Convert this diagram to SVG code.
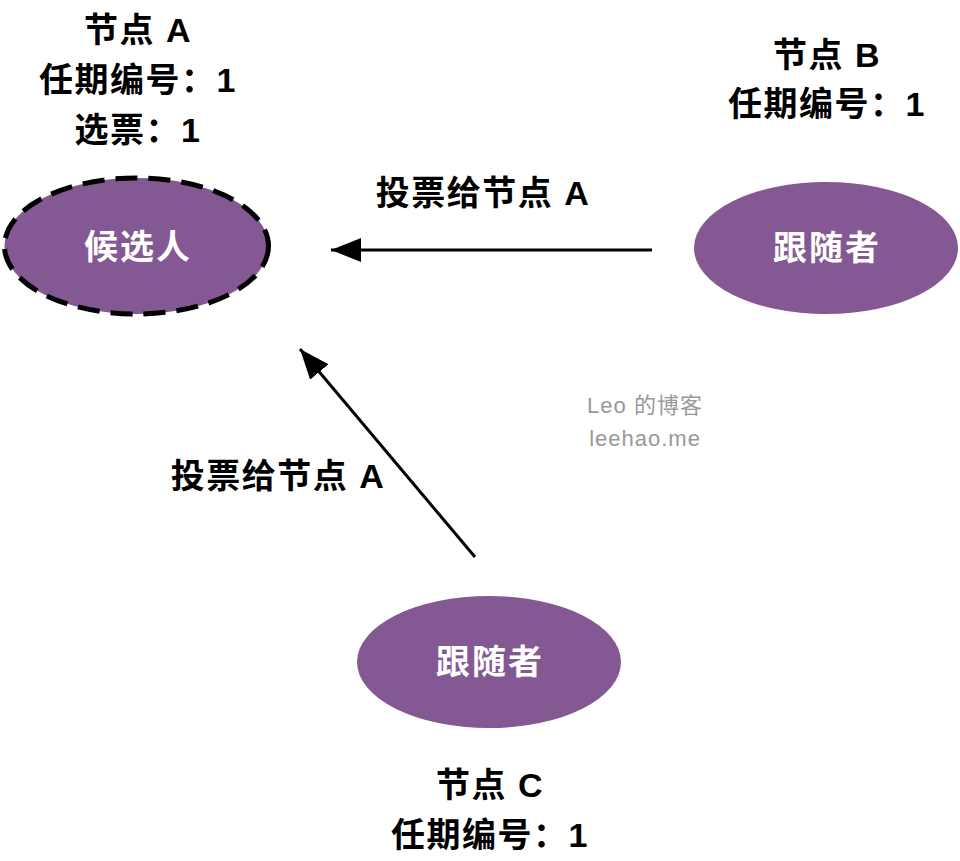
<svg xmlns="http://www.w3.org/2000/svg" width="960" height="861" viewBox="0 0 960 861">
<defs>
<style>
.lbl{font-family:"Liberation Sans","Noto Sans CJK SC",sans-serif;font-weight:bold;font-size:34px;letter-spacing:1.5px;fill:#000;text-anchor:middle;dominant-baseline:central}
.nt{font-family:"Liberation Sans","Noto Sans CJK SC",sans-serif;font-weight:bold;font-size:34px;letter-spacing:2px;fill:#fff;text-anchor:middle;dominant-baseline:central}
.wm{font-family:"Liberation Sans","Noto Sans CJK SC",sans-serif;font-size:22px;letter-spacing:1px;fill:#999;text-anchor:middle;dominant-baseline:central}
.node{fill:#835893}
.edge{stroke:#000;stroke-width:3;fill:none}
</style>
<marker id="ah" viewBox="0 0 30 24" refX="30" refY="12" markerWidth="30" markerHeight="24" markerUnits="userSpaceOnUse" orient="auto">
<path d="M0,0 L30,12 L0,24 Z" fill="#000"/>
</marker>
</defs>
<g id="connectors">
<line class="edge" x1="652" y1="250" x2="331" y2="250" marker-end="url(#ah)"/>
<line class="edge" x1="475" y1="557" x2="300" y2="349" marker-end="url(#ah)"/>
<text class="lbl" x="483" y="193">投票给节点 A</text>
<text class="lbl" x="278" y="476">投票给节点 A</text>
</g>
<g id="nodeA">
<ellipse class="node" cx="136.5" cy="246" rx="132" ry="68" stroke="#000" stroke-width="5" stroke-dasharray="22 11"/>
<text class="nt" x="138" y="247">候选人</text>
<text class="lbl" x="138" y="30">节点 A</text>
<text class="lbl" x="138" y="80">任期编号：1</text>
<text class="lbl" x="138" y="130">选票：1</text>
</g>
<g id="nodeB">
<ellipse class="node" cx="826" cy="248" rx="132" ry="66"/>
<text class="nt" x="827" y="248">跟随者</text>
<text class="lbl" x="827" y="55">节点 B</text>
<text class="lbl" x="827" y="104">任期编号：1</text>
</g>
<g id="nodeC">
<ellipse class="node" cx="489" cy="662" rx="132" ry="66"/>
<text class="nt" x="490" y="662">跟随者</text>
<text class="lbl" x="490" y="785">节点 C</text>
<text class="lbl" x="490" y="835">任期编号：1</text>
</g>
<g id="watermark">
<text class="wm" x="645" y="405">Leo 的博客</text>
<text class="wm" x="645" y="438">leehao.me</text>
</g>
</svg>
